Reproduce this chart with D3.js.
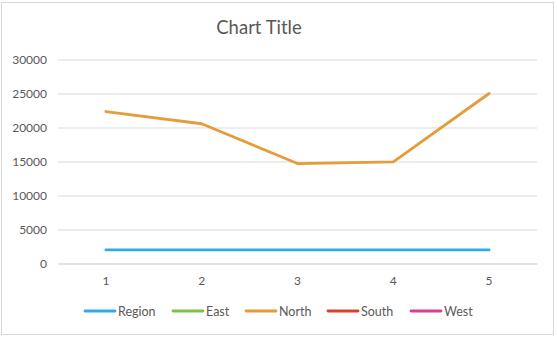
<!DOCTYPE html>
<html>
<head>
<meta charset="utf-8">
<script src="https://cdn.jsdelivr.net/npm/d3@7"></script>
<style>
  html, body { margin: 0; padding: 0; background: #fff; }
  svg { display: block; font-family: Lato, "Open Sans", sans-serif; }
</style>
</head>
<body>
<svg id="chart" width="557" height="338"></svg>
<script>
// Series data
const categories = [1, 2, 3, 4, 5];
const region = [2000, 2000, 2000, 2000, 2000];
const east = [null, null, null, null, null];
const north = [22350, 20550, 14700, 14950, 25000];
const south = [null, null, null, null, null];
const west = [null, null, null, null, null];
const yTicks = [0, 5000, 10000, 15000, 20000, 25000, 30000];
const seriesNames = ["Region", "East", "North", "South", "West"];
const seriesColors = ["#30ABE8", "#7CC246", "#E69C38", "#D8432F", "#D9418C"];

const series = [region, east, north, south, west].map((values, i) => ({
  name: seriesNames[i],
  color: seriesColors[i],
  values: values
}));

const svg = d3.select("#chart");
const W = 557, H = 338;
const margin = { left: 58, right: 20, top: 59.5, bottom: 74.5 };

// Chart area border
svg.append("rect")
  .attr("x", 1.5).attr("y", 2.5)
  .attr("width", 552).attr("height", 332)
  .attr("fill", "#fff")
  .attr("stroke", "#d9d9d9")
  .attr("stroke-width", 1);

// Title
svg.append("text")
  .attr("x", 259).attr("y", 34)
  .attr("text-anchor", "middle")
  .attr("fill", "#595959")
  .attr("font-size", 18.5)
  .text("Chart Title");

const x = d3.scaleBand()
  .domain(categories)
  .range([margin.left, W - margin.right]);

const y = d3.scaleLinear()
  .domain([0, 30000])
  .range([H - margin.bottom, margin.top]);

// Gridlines and y tick labels
const yAxis = d3.axisLeft(y)
  .tickValues(yTicks)
  .tickSize(-(W - margin.right - margin.left))
  .tickPadding(11)
  .tickFormat(d3.format("d"));

const gy = svg.append("g")
  .attr("transform", `translate(${margin.left},0)`)
  .call(yAxis);
gy.select(".domain").remove();
gy.selectAll(".tick line").attr("stroke", "#d9d9d9");
gy.selectAll(".tick text")
  .attr("fill", "#595959")
  .attr("font-size", 12)
  .attr("font-family", "Lato, 'Open Sans', sans-serif");

// X axis labels
const xAxis = d3.axisBottom(x).tickSize(0).tickPadding(13);
const gx = svg.append("g")
  .attr("transform", `translate(0,${H - margin.bottom})`)
  .call(xAxis);
gx.select(".domain").attr("stroke", "#d9d9d9");
gx.selectAll(".tick text")
  .attr("fill", "#595959")
  .attr("font-size", 12)
  .attr("font-family", "Lato, 'Open Sans', sans-serif");

// Lines
const line = d3.line()
  .defined(d => d.v != null)
  .x(d => x(d.c) + x.bandwidth() / 2)
  .y(d => y(d.v));

svg.append("g").selectAll("path")
  .data(series)
  .join("path")
  .attr("fill", "none")
  .attr("stroke", d => d.color)
  .attr("stroke-width", 2.8)
  .attr("stroke-linejoin", "round")
  .attr("stroke-linecap", "round")
  .attr("d", d => line(d.values.map((v, i) => ({ c: categories[i], v: v }))));

// Legend
const legendX = [85, 173, 246, 328, 411];
const legend = svg.append("g").selectAll("g")
  .data(series)
  .join("g")
  .attr("transform", (d, i) => `translate(${legendX[i]},311)`);
legend.append("line")
  .attr("x1", 0).attr("x2", 30)
  .attr("stroke", d => d.color)
  .attr("stroke-width", 2.8)
  .attr("stroke-linecap", "round");
legend.append("text")
  .attr("x", 33).attr("y", 4.5)
  .attr("fill", "#595959")
  .attr("font-size", 12.5)
  .text(d => d.name);
</script>
</body>
</html>
